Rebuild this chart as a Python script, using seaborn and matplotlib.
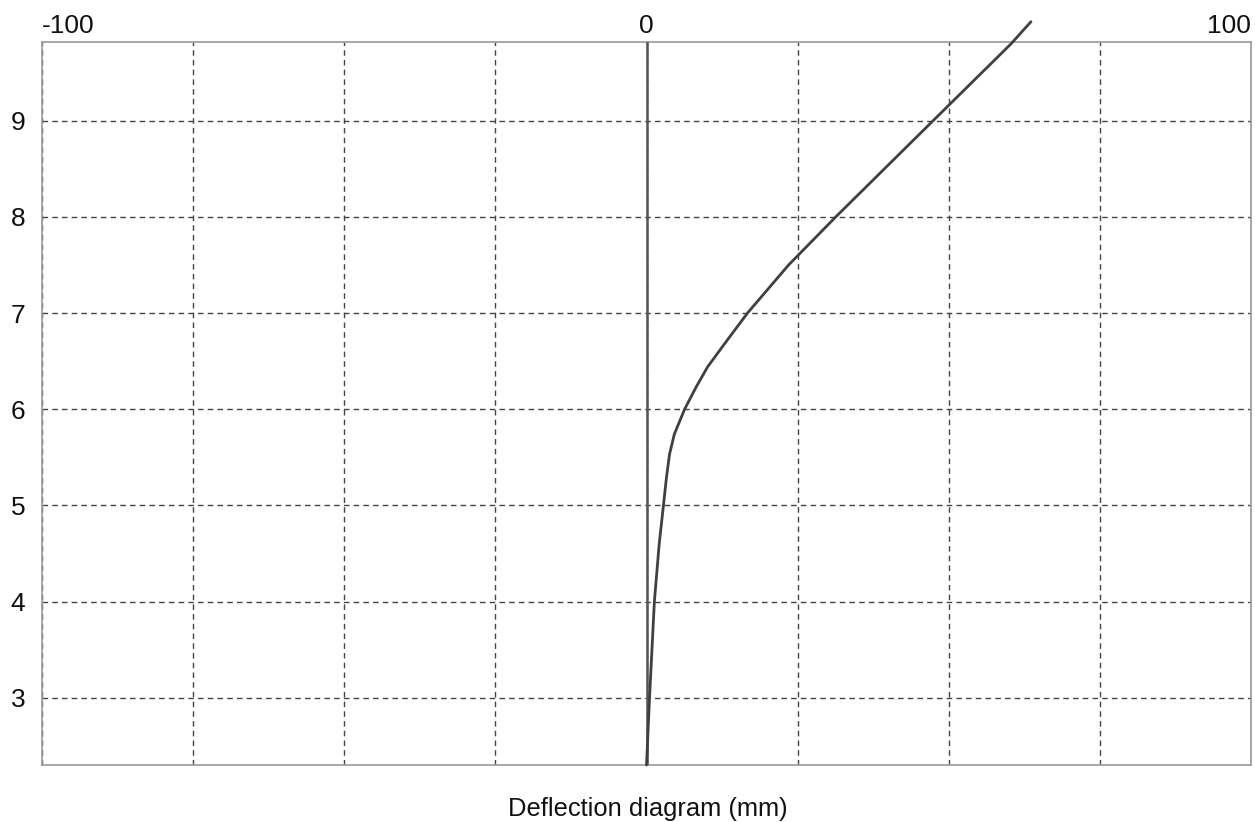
import matplotlib
matplotlib.use("Agg")
import matplotlib.pyplot as plt
import seaborn as sns
import pandas as pd

# deflection (mm) against depth level
deflection = [0.0, 0.5, 1.3, 2.1, 2.8, 3.3, 3.8, 4.6, 6.3, 8.2, 10.1, 12.9,
              16.7, 23.5, 31.3, 47.4, 60.3, 63.6]
level = [2.3, 3.0, 4.0, 4.6, 5.0, 5.29, 5.53, 5.74, 6.0, 6.23, 6.44, 6.68,
         7.0, 7.5, 8.0, 9.0, 9.8, 10.03]

x_ticks = [-100, -75, -50, -25, 0, 25, 50, 75, 100]
x_labels = ["-100", "", "", "", "0", "", "", "", "100"]
y_ticks = [3, 4, 5, 6, 7, 8, 9]

sns.set_style("white")
plt.rcParams["font.family"] = ["Liberation Sans", "DejaVu Sans"]

df = pd.DataFrame({"deflection": deflection, "level": level})

fig = plt.figure(figsize=(12.55, 8.22), dpi=100)
ax = fig.add_axes([0.0335, 0.0693, 0.9633, 0.8797])

ax.set_xlim(-100, 100)
ax.set_ylim(2.3, 9.82)
ax.set_xticks(x_ticks)
ax.set_xticklabels(x_labels)
ax.set_yticks(y_ticks)
ax.xaxis.tick_top()
ax.tick_params(axis="both", length=0, labelsize=19, colors="#111111")
ax.tick_params(axis="x", pad=3)
ax.tick_params(axis="y", pad=12)

labels = ax.get_xticklabels()
labels[0].set_horizontalalignment("left")
labels[-1].set_horizontalalignment("right")

ax.grid(True, linestyle=(0, (4, 3)), color="#444444", linewidth=1.0)
for s in ax.spines.values():
    s.set_color("#999999")
    s.set_linewidth(1.2)

ax.axvline(0, color="#555555", linewidth=1.8, zorder=3)

sns.lineplot(data=df, x="deflection", y="level", sort=False, estimator=None,
             color="#404040", linewidth=2.0, ax=ax, clip_on=False, zorder=4)

ax.set_ylabel("")
ax.set_xlabel("")
fig.text(0.516, 0.007, "Deflection diagram (mm)", ha="center", va="baseline",
         fontsize=18.4, color="#111111")

fig.savefig("out.png", dpi=100, facecolor="white")
